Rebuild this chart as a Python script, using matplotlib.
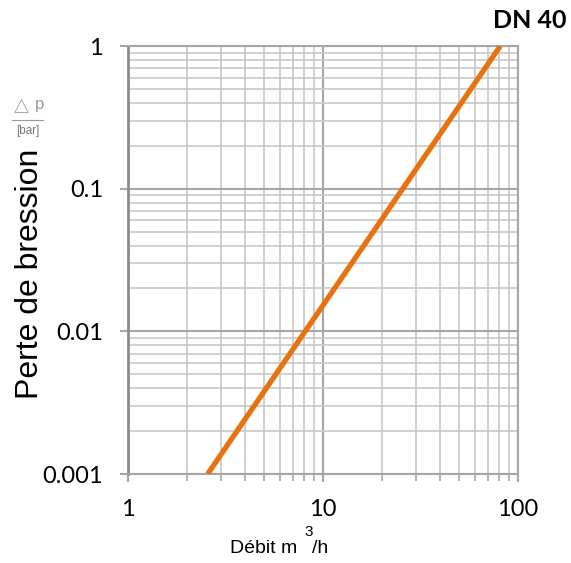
import matplotlib
matplotlib.use("Agg")
import matplotlib.pyplot as plt
from matplotlib.ticker import LogLocator, NullFormatter, FixedLocator, FixedFormatter

flow = [2.56, 81.0]
dp = [0.001, 1.0]
xticks = [1, 10, 100]
xlabels = ["1", "10", "100"]
yticks = [0.001, 0.01, 0.1, 1]
ylabels = ["0.001", "0.01", "0.1", "1"]

plt.rcParams['font.family'] = ['Liberation Sans', 'DejaVu Sans']

fig = plt.figure(figsize=(5.71, 5.63), dpi=100)
ax = fig.add_axes([0.2242, 0.158, 0.683, 0.760])
ax.set_xscale('log')
ax.set_yscale('log')
ax.set_xlim(1, 100)
ax.set_ylim(0.001, 1)

ax.plot(flow, dp, color='#E8720F', lw=3.8, solid_capstyle='butt', zorder=3)

ax.xaxis.set_major_locator(FixedLocator(xticks))
ax.xaxis.set_major_formatter(FixedFormatter(xlabels))
ax.yaxis.set_major_locator(FixedLocator(yticks))
ax.yaxis.set_major_formatter(FixedFormatter(ylabels))
ax.xaxis.set_minor_locator(LogLocator(base=10, subs=range(2, 10)))
ax.yaxis.set_minor_locator(LogLocator(base=10, subs=range(2, 10)))
ax.xaxis.set_minor_formatter(NullFormatter())
ax.yaxis.set_minor_formatter(NullFormatter())

ax.grid(which='major', color='#a6a6a6', lw=1.5)
ax.grid(which='minor', color='#c8c8c8', lw=1.2)
ax.tick_params(which='major', length=6, width=1.5, color='#a6a6a6', labelsize=17, pad=12)
ax.tick_params(axis='x', which='minor', length=5, width=1.2, color='#a6a6a6')
ax.tick_params(axis='y', which='minor', length=0)
for lab in ax.get_xticklabels() + ax.get_yticklabels():
    lab.set_family(['Lato', 'DejaVu Sans'])
for s in ax.spines.values():
    s.set_color('#a6a6a6')
    s.set_linewidth(1.5)
ax.spines['left'].set_color('#8c8c8c')
ax.spines['left'].set_linewidth(2)

fig.text(0.052, 0.513, "Perte de bression", rotation=90, fontsize=23, ha='center', va='center')
fig.text(0.037, 0.812, "\u25b3", fontsize=14, color='#aaaaaa', ha='center', va='center',
         family=['DejaVu Sans'])
fig.text(0.070, 0.806, "p", fontsize=12, color='#999999', ha='center', va='baseline')
fig.add_artist(plt.Line2D([0.021, 0.076], [0.787, 0.787], color='#999999', lw=0.8))
fig.text(0.049, 0.767, "[bar]", fontsize=8.5, color='#777777', ha='center', va='center')

fig.text(0.928, 0.964, "DN 40", fontsize=18, fontweight='bold', ha='center', va='center',
         family=['Lato', 'DejaVu Sans'])

fig.text(0.403, 0.018, "Débit m", fontsize=14, ha='left', va='baseline')
fig.text(0.534, 0.055, "3", fontsize=11, ha='left', va='center')
fig.text(0.546, 0.018, "/h", fontsize=14, ha='left', va='baseline')

fig.savefig("out.png", dpi=100)
